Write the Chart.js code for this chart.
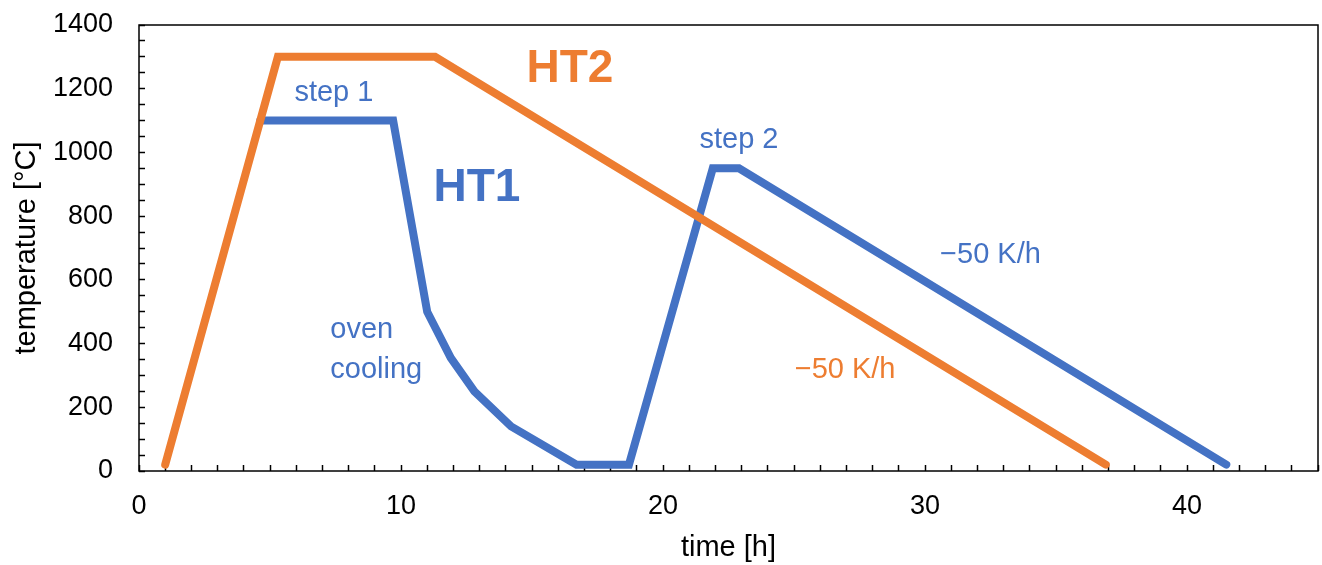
<!DOCTYPE html>
<html>
<head>
<meta charset="utf-8">
<script src="https://cdn.jsdelivr.net/npm/chart.js@4.4.1/dist/chart.umd.min.js"></script>
<style>
  body { margin: 0; background: #fff; overflow: hidden; }
  #wrap { width: 1322px; height: 565px; }
</style>
</head>
<body>
<div id="wrap"><canvas id="canvas"></canvas></div>
<script>
// HT1 temperature profile (time in h, temperature in degC)
// the heating ramp lies under the HT2 ramp, so HT1 is drawn from the 1100 degC hold
var ht1Time = [4.63, 9.7, 11.0, 11.9, 12.8, 14.2, 16.7, 18.7, 21.9, 22.9, 41.5];
var ht1Temp = [1100, 1100, 500, 355, 250, 140, 20, 20, 950, 950, 20];

// HT2 temperature profile
var ht2Time = [1, 5.3, 11.3, 36.9];
var ht2Temp = [20, 1300, 1300, 20];

var seriesNames = ['HT2', 'HT1'];
var xLabelEvery = 10;
var yLabelEvery = 200;

var orange = '#ED7D31';
var blue = '#4472C4';

function toPoints(xs, ys) {
    return xs.map(function(x, i) { return {x: x, y: ys[i]}; });
}

// text notes in the plot, placed in data coordinates
var notes = [
    {text: 'HT2', x: 16.45, y: 1262, color: orange, font: 'bold 46px "Liberation Sans", Arial', align: 'center'},
    {text: 'HT1', x: 12.9, y: 888, color: blue, font: 'bold 46px "Liberation Sans", Arial', align: 'center'},
    {text: 'step 1', x: 7.44, y: 1186, color: blue, font: '29px "Liberation Sans", Arial', align: 'center'},
    {text: 'step 2', x: 22.9, y: 1039, color: blue, font: '29px "Liberation Sans", Arial', align: 'center'},
    {text: 'oven', x: 7.3, y: 443, color: blue, font: '29px "Liberation Sans", Arial', align: 'left'},
    {text: 'cooling', x: 7.3, y: 317, color: blue, font: '29px "Liberation Sans", Arial', align: 'left'},
    {text: '\u221250 K/h', x: 32.5, y: 678, color: blue, font: '29px "Liberation Sans", Arial', align: 'center'},
    {text: '\u221250 K/h', x: 26.95, y: 317, color: orange, font: '29px "Liberation Sans", Arial', align: 'center'}
];

var notesPlugin = {
    id: 'notes',
    afterDatasetsDraw: function(chart) {
        var ctx = chart.ctx;
        var xs = chart.scales.x, ys = chart.scales.y;
        ctx.save();
        notes.forEach(function(n) {
            ctx.font = n.font;
            ctx.fillStyle = n.color;
            ctx.textAlign = n.align;
            ctx.textBaseline = 'middle';
            ctx.fillText(n.text, xs.getPixelForValue(n.x), ys.getPixelForValue(n.y));
        });
        ctx.restore();
    }
};

var framePlugin = {
    id: 'frame',
    afterDatasetsDraw: function(chart) {
        var a = chart.chartArea, ctx = chart.ctx;
        ctx.save();
        ctx.strokeStyle = '#000';
        ctx.lineWidth = 1.5;
        ctx.strokeRect(a.left, a.top, a.right - a.left, a.bottom - a.top);
        ctx.restore();
    }
};

function noPadding(scale) {
    scale.paddingLeft = 0;
    scale.paddingRight = 0;
    scale.paddingTop = 0;
    scale.paddingBottom = 0;
}

var ctx = document.getElementById('canvas').getContext('2d');
var myChart = new Chart(ctx, {
    type: 'line',
    data: {
        datasets: [{
            label: seriesNames[0],
            data: toPoints(ht2Time, ht2Temp),
            borderColor: orange,
            backgroundColor: orange,
            borderWidth: 8,
            borderCapStyle: 'round',
            pointRadius: 0,
            fill: false,
            tension: 0,
            order: 0
        }, {
            label: seriesNames[1],
            data: toPoints(ht1Time, ht1Temp),
            borderColor: blue,
            backgroundColor: blue,
            borderWidth: 8,
            borderCapStyle: 'round',
            pointRadius: 0,
            fill: false,
            tension: 0,
            order: 1
        }]
    },
    options: {
        responsive: true,
        maintainAspectRatio: false,
        animation: false,
        layout: { padding: { top: 25, right: 4, left: 0, bottom: 0 } },
        plugins: {
            legend: { display: false },
            tooltip: { enabled: false }
        },
        scales: {
            x: {
                type: 'linear',
                min: 0,
                max: 45,
                afterFit: function(scale) { scale.height = 94; noPadding(scale); },
                border: { display: false },
                grid: {
                    drawOnChartArea: false,
                    tickLength: -6,
                    tickColor: '#000',
                    tickWidth: 1.5
                },
                ticks: {
                    stepSize: 1,
                    autoSkip: false,
                    maxRotation: 0,
                    padding: 25,
                    color: '#000',
                    font: { family: '"Liberation Sans", Arial', size: 27 },
                    callback: function(v) { return v % xLabelEvery === 0 ? String(v) : ''; }
                },
                title: {
                    display: true,
                    text: 'time [h]',
                    color: '#000',
                    padding: { top: 0, bottom: 0 },
                    font: { family: '"Liberation Sans", Arial', size: 29 }
                }
            },
            y: {
                min: 0,
                max: 1400,
                afterFit: function(scale) { scale.width = 139; noPadding(scale); },
                border: { display: false },
                grid: {
                    drawOnChartArea: false,
                    tickLength: -6,
                    tickColor: '#000',
                    tickWidth: 1.5
                },
                ticks: {
                    stepSize: 50,
                    autoSkip: false,
                    padding: 32,
                    color: '#000',
                    font: { family: '"Liberation Sans", Arial', size: 27 },
                    callback: function(v) { return v % yLabelEvery === 0 ? String(v) : ''; }
                },
                title: {
                    display: true,
                    text: 'temperature [\u00B0C]',
                    color: '#000',
                    padding: { top: 10, bottom: 0 },
                    font: { family: '"Liberation Sans", Arial', size: 29 }
                }
            }
        }
    },
    plugins: [notesPlugin, framePlugin]
});
</script>
</body>
</html>
